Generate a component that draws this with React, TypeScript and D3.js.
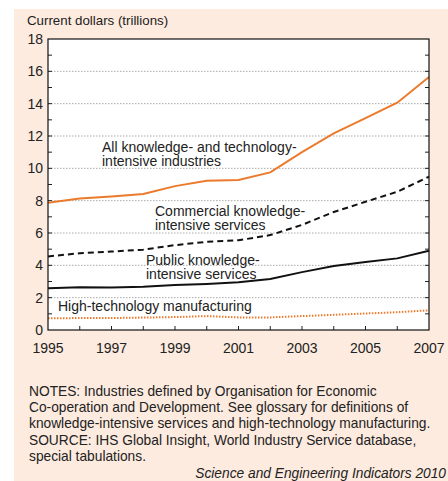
import React, { useEffect, useRef } from 'react';
import * as d3 from 'd3';

const years = [1995, 1996, 1997, 1998, 1999, 2000, 2001, 2002, 2003, 2004, 2005, 2006, 2007];
const allKti = [7.87, 8.14, 8.26, 8.41, 8.9, 9.23, 9.28, 9.75, 11.0, 12.16, 13.1, 14.06, 15.65];
const commercialKis = [4.55, 4.75, 4.85, 4.97, 5.25, 5.45, 5.55, 5.87, 6.5, 7.3, 7.93, 8.55, 9.48];
const publicKis = [2.58, 2.64, 2.63, 2.68, 2.78, 2.85, 2.95, 3.15, 3.58, 3.96, 4.2, 4.43, 4.9];
const hiTechMfg = [0.72, 0.74, 0.74, 0.77, 0.8, 0.86, 0.78, 0.78, 0.86, 0.94, 1.02, 1.1, 1.22];
const yTickLabels = [0, 2, 4, 6, 8, 10, 12, 14, 16, 18];
const xTickLabels = [1995, 1997, 1999, 2001, 2003, 2005, 2007];

const notes = [
  'NOTES: Industries defined by Organisation for Economic',
  'Co-operation and Development. See glossary for definitions of',
  'knowledge-intensive services and high-technology manufacturing.',
];
const source = ['SOURCE: IHS Global Insight, World Industry Service database,', 'special tabulations.'];

const W = 448;
const H = 481;
const ORANGE = '#ec7a2c';
const FONT = '"Liberation Sans", Arial, Helvetica, sans-serif';

export default function App() {
  const ref = useRef<SVGSVGElement>(null);

  useEffect(() => {
    if (!ref.current) return;
    const svg = d3.select(ref.current);
    svg.selectAll('*').remove();

    const m = { left: 48, right: 429, top: 39, bottom: 330 };
    const x = d3.scaleLinear().domain([1995, 2007]).range([m.left, m.right]);
    const y = d3.scaleLinear().domain([0, 18]).range([m.bottom, m.top]);

    svg.append('rect').attr('width', W).attr('height', H).attr('fill', '#fff');
    svg.append('rect').attr('x', 14).attr('y', 9).attr('width', W - 14).attr('height', H - 9).attr('fill', '#fdebdf');

    svg.append('text').attr('x', 27).attr('y', 25).attr('font-size', 13.3).attr('fill', '#222').attr('font-family', FONT)
      .text('Current dollars (trillions)');

    svg.append('rect').attr('x', m.left).attr('y', m.top).attr('width', m.right - m.left).attr('height', m.bottom - m.top)
      .attr('fill', '#fff');

    // gridlines
    svg.append('g').selectAll('line').data(yTickLabels.filter(v => v > 0 && v < 18)).join('line')
      .attr('x1', m.left).attr('x2', m.right).attr('y1', d => y(d)).attr('y2', d => y(d))
      .attr('stroke', '#aaa').attr('stroke-width', 1).attr('stroke-dasharray', '1.5,1.5');

    // y ticks (all integers, inward both sides)
    const yMinor = d3.range(1, 18);
    svg.append('g').selectAll('line').data(yMinor).join('line')
      .attr('x1', m.left).attr('x2', m.left + 4).attr('y1', d => y(d)).attr('y2', d => y(d))
      .attr('stroke', '#222');
    svg.append('g').selectAll('line').data(yMinor).join('line')
      .attr('x1', m.right - 4).attr('x2', m.right).attr('y1', d => y(d)).attr('y2', d => y(d))
      .attr('stroke', '#222');
    svg.append('g').selectAll('line').data(years.slice(1, -1)).join('line')
      .attr('x1', d => x(d)).attr('x2', d => x(d)).attr('y1', m.bottom).attr('y2', m.bottom - 4)
      .attr('stroke', '#222');

    svg.append('g').selectAll('text').data(yTickLabels).join('text')
      .attr('x', 43).attr('y', d => y(d) + 5).attr('text-anchor', 'end')
      .attr('font-size', 14).attr('font-family', FONT).attr('fill', '#222').text(d => d);
    svg.append('g').selectAll('text').data(xTickLabels).join('text')
      .attr('x', d => x(d)).attr('y', 353).attr('text-anchor', 'middle')
      .attr('font-size', 14).attr('font-family', FONT).attr('fill', '#222').text(d => d);

    const line = d3.line<number>().x((_, i) => x(years[i])).y(d => y(d));
    const series: [number[], string, number, string | null][] = [
      [hiTechMfg, ORANGE, 2, '1.5,1.5'],
      [publicKis, '#111', 2, null],
      [commercialKis, '#111', 2, '6,4'],
      [allKti, ORANGE, 2, null],
    ];
    series.forEach(([d, c, w, dash]) => {
      const p = svg.append('path').datum(d).attr('d', line).attr('fill', 'none')
        .attr('stroke', c).attr('stroke-width', w);
      if (dash) p.attr('stroke-dasharray', dash);
    });

    svg.append('rect').attr('x', m.left).attr('y', m.top).attr('width', m.right - m.left).attr('height', m.bottom - m.top)
      .attr('fill', 'none').attr('stroke', '#111').attr('stroke-width', 1.2);

    const labels: [number, number, string][] = [
      [102, 151.5, 'All knowledge- and technology-'],
      [102, 165.5, 'intensive industries'],
      [155, 215.5, 'Commercial knowledge-'],
      [155, 229.5, 'intensive services'],
      [146, 265, 'Public knowledge-'],
      [146, 279, 'intensive services'],
      [58, 311, 'High-technology manufacturing'],
    ];
    svg.append('g').selectAll('text').data(labels).join('text')
      .attr('x', d => d[0]).attr('y', d => d[1])
      .attr('font-size', 14).attr('font-family', FONT).attr('fill', '#222').text(d => d[2]);

    const noteLines = notes.map((t, i) => [395.5 + i * 16.3, t] as [number, string])
      .concat(source.map((t, i) => [444.5 + i * 16.3, t] as [number, string]));
    svg.append('g').selectAll('text').data(noteLines).join('text')
      .attr('x', 29).attr('y', d => d[0])
      .attr('font-size', 13.75).attr('font-family', FONT).attr('fill', '#222').text(d => d[1]);

    svg.append('text').attr('x', 446).attr('y', 478).attr('text-anchor', 'end')
      .attr('font-size', 13.75).attr('font-style', 'italic').attr('font-family', FONT).attr('fill', '#222')
      .text('Science and Engineering Indicators 2010');
  }, []);

  return (
    <svg ref={ref} width={W} height={H} style={{ position: 'absolute', left: 0, top: 0, display: 'block' }} />
  );
}
